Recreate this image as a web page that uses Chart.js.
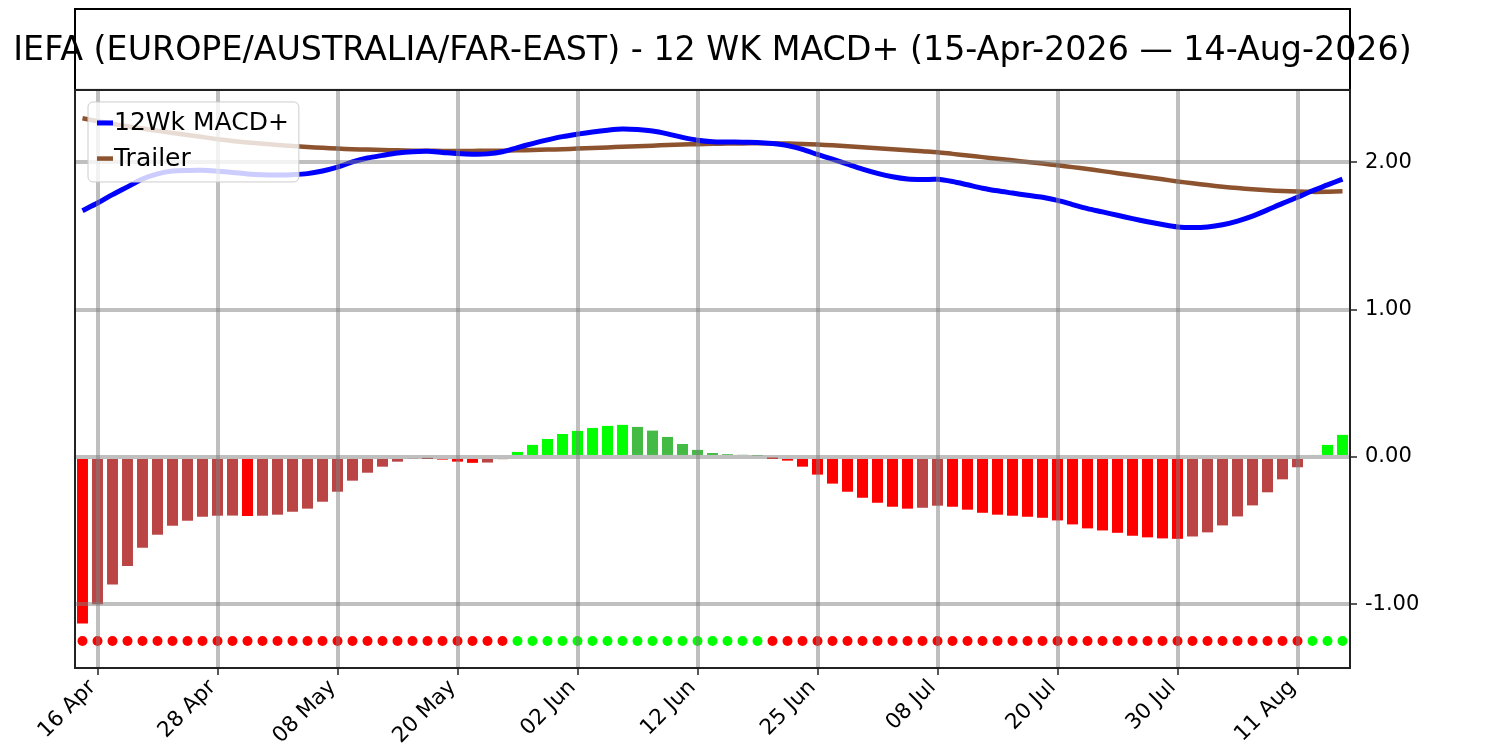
<!DOCTYPE html>
<html>
<head>
<meta charset="utf-8">
<script src="https://cdn.jsdelivr.net/npm/chart.js@4.4.1/dist/chart.umd.min.js"></script>
<style>
  html, body { margin: 0; padding: 0; background: #fff; }
  #wrap { width: 1500px; height: 750px; }
</style>
</head>
<body>
<div id="wrap"><canvas id="macd"></canvas></div>
<script>
// trading sessions, 15 Apr 2026 - 14 Aug 2026
const days = [
  '15 Apr','16 Apr','17 Apr','20 Apr','21 Apr','22 Apr','23 Apr','24 Apr','27 Apr','28 Apr','29 Apr','30 Apr',
  '01 May','04 May','05 May','06 May','07 May','08 May','11 May','12 May','13 May','14 May','15 May','18 May',
  '19 May','20 May','21 May','22 May','26 May','27 May','28 May','29 May',
  '01 Jun','02 Jun','03 Jun','04 Jun','05 Jun','08 Jun','09 Jun','10 Jun','11 Jun','12 Jun','15 Jun','16 Jun',
  '17 Jun','18 Jun','22 Jun','23 Jun','24 Jun','25 Jun','26 Jun','29 Jun','30 Jun',
  '01 Jul','02 Jul','06 Jul','07 Jul','08 Jul','09 Jul','10 Jul','13 Jul','14 Jul','15 Jul','16 Jul','17 Jul',
  '20 Jul','21 Jul','22 Jul','23 Jul','24 Jul','27 Jul','28 Jul','29 Jul','30 Jul','31 Jul',
  '03 Aug','04 Aug','05 Aug','06 Aug','07 Aug','10 Aug','11 Aug','12 Aug','13 Aug','14 Aug'
];

const macd = [
  1.672,1.724,1.781,1.834,1.887,1.922,1.941,1.945,1.946,1.940,1.932,1.922,1.916,1.914,1.917,1.924,1.942,
  1.968,2.003,2.030,2.048,2.064,2.073,2.076,2.068,2.060,2.056,2.058,2.072,2.101,2.128,2.153,2.175,2.192,
  2.207,2.219,2.227,2.223,2.213,2.194,2.170,2.151,2.141,2.139,2.137,2.136,2.128,2.114,2.088,2.054,2.022,
  1.988,1.955,1.926,1.903,1.888,1.884,1.885,1.870,1.848,1.825,1.807,1.792,1.777,1.763,1.742,1.714,1.686,
  1.664,1.641,1.618,1.597,1.578,1.562,1.558,1.562,1.577,1.602,1.635,1.678,1.722,1.763,1.808,1.847,1.887
];

const trailer = [
  2.300,2.280,2.262,2.245,2.230,2.215,2.200,2.186,2.172,2.158,2.146,2.136,2.127,2.119,2.112,2.105,2.099,
  2.094,2.090,2.087,2.084,2.082,2.080,2.079,2.078,2.078,2.078,2.079,2.080,2.082,2.084,2.087,2.090,2.094,
  2.098,2.102,2.106,2.110,2.114,2.118,2.121,2.124,2.126,2.128,2.129,2.130,2.130,2.128,2.125,2.121,2.116,
  2.110,2.103,2.097,2.090,2.083,2.076,2.069,2.058,2.047,2.036,2.025,2.014,2.003,1.992,1.981,1.968,1.955,
  1.941,1.927,1.913,1.899,1.885,1.871,1.858,1.846,1.835,1.826,1.818,1.811,1.806,1.802,1.800,1.801,1.804
];

const hist = [
  -1.13,-1.00,-0.866,-0.74,-0.617,-0.528,-0.467,-0.433,-0.406,-0.399,-0.398,-0.401,-0.399,-0.392,-0.372,
  -0.351,-0.304,-0.236,-0.161,-0.107,-0.066,-0.032,-0.012,-0.006,-0.018,-0.032,-0.04,-0.038,-0.015,
  0.034,0.082,0.122,0.156,0.177,0.197,0.211,0.218,0.204,0.179,0.136,0.088,0.048,0.027,0.019,0.015,0.01,
  -0.004,-0.025,-0.066,-0.12,-0.181,-0.236,-0.277,-0.311,-0.338,-0.351,-0.345,-0.331,-0.338,-0.358,-0.379,
  -0.392,-0.399,-0.406,-0.413,-0.431,-0.458,-0.485,-0.499,-0.515,-0.535,-0.546,-0.553,-0.556,-0.54,-0.512,
  -0.465,-0.404,-0.329,-0.24,-0.152,-0.07,0.014,0.082,0.15
];

const signalLevel = -1.25;
const yTicks = [-1, 0, 1, 2];
const tickEvery = 8;   // a date label every 8 sessions, starting at 16 Apr

const FONT = '"DejaVu Sans", Verdana, sans-serif';
const GRID = 'rgba(128,128,128,0.5)';

// bright when the histogram moves away from zero, dull when it comes back
const barColors = hist.map((v, i) => {
  const prev = i > 0 ? hist[i - 1] : v;
  if (v >= 0) return v >= prev ? '#00ff00' : '#44bb44';
  return v <= prev ? '#ff0000' : '#bb4444';
});
const dotColors = hist.map(v => v >= 0 ? '#00ff00' : '#ff0000');

const shown = i => (i - 1) % tickEvery === 0;

// the title may run wider than its box, as in the original
const wideTitle = {
  id: 'wideTitle',
  afterLayout(chart) {
    const t = chart.titleBlock, a = chart.chartArea;
    const mid = (a.left + a.right) / 2;
    t.left = mid - 800;
    t.right = mid + 800;
  }
};

const legendBox = {
  id: 'legendBox',
  afterDraw(chart) {
    const {ctx, chartArea: a} = chart;
    const items = chart.data.datasets.filter(d => d.inLegend);
    ctx.save();
    ctx.font = '25px ' + FONT;
    const textW = Math.max(...items.map(d => ctx.measureText(d.label).width));
    const x0 = a.left + 13, y0 = a.top + 12;
    ctx.beginPath();
    ctx.roundRect(x0, y0, 26 + textW + 10, 80, 5);
    ctx.fillStyle = 'rgba(255,255,255,0.8)';
    ctx.fill();
    ctx.strokeStyle = '#cccccc';
    ctx.lineWidth = 1;
    ctx.stroke();
    items.forEach((d, k) => {
      const cy = y0 + 21 + k * 35.6;
      ctx.strokeStyle = d.borderColor;
      ctx.lineWidth = d.borderWidth;
      ctx.beginPath();
      ctx.moveTo(x0 + 9, cy);
      ctx.lineTo(x0 + 25, cy);
      ctx.stroke();
      ctx.fillStyle = '#000';
      ctx.textBaseline = 'middle';
      ctx.fillText(d.label, x0 + 26, cy + 1);
    });
    ctx.restore();
  }
};

const frames = {
  id: 'frames',
  afterDraw(chart) {
    const {ctx, chartArea: a} = chart;
    const t = chart.titleBlock;
    ctx.save();
    ctx.lineWidth = 2;
    ctx.strokeStyle = '#000';
    ctx.strokeRect(a.left, t.top, a.right - a.left, a.top - t.top);
    ctx.strokeStyle = '#222';
    ctx.strokeRect(a.left, a.top, a.right - a.left, a.bottom - a.top);
    ctx.restore();
  }
};

new Chart(document.getElementById('macd'), {
  type: 'bar',
  data: {
    labels: days,
    datasets: [
      { type: 'line', label: '12Wk MACD+', data: macd, borderColor: '#0000ff', borderWidth: 5,
        pointRadius: 0, tension: 0.3, inLegend: true, order: 1 },
      { type: 'line', label: 'Trailer', data: trailer, borderColor: '#8c532e', borderWidth: 4.5,
        pointRadius: 0, tension: 0.3, inLegend: true, order: 2 },
      { type: 'bar', label: 'Histogram', data: hist, backgroundColor: barColors,
        barPercentage: 0.73, categoryPercentage: 1, order: 3 },
      { type: 'line', label: 'Signal', data: days.map(() => signalLevel), showLine: false,
        pointRadius: 5, pointBorderWidth: 0, pointBackgroundColor: dotColors, order: 0 }
    ]
  },
  options: {
    responsive: true,
    maintainAspectRatio: false,
    animation: false,
    layout: { padding: { left: 75, top: 9, right: 0, bottom: 0 } },
    plugins: {
      legend: { display: false },
      tooltip: { enabled: false },
      title: {
        display: true,
        fullSize: false,
        text: 'IEFA (EUROPE/AUSTRALIA/FAR-EAST) - 12 WK MACD+ (15-Apr-2026 \u2014 14-Aug-2026)',
        color: '#000',
        font: { family: FONT, size: 33.3, weight: 'normal', lineHeight: 1.2 },
        padding: { top: 22.5, bottom: 18.5 }
      }
    },
    scales: {
      x: {
        offset: true,
        border: { display: false },
        grid: {
          offset: false, z: 1, lineWidth: 4, tickLength: 7, tickWidth: 1.5,
          color: c => shown(c.index) ? GRID : 'rgba(0,0,0,0)',
          tickColor: c => shown(c.index) ? '#222' : 'rgba(0,0,0,0)'
        },
        ticks: {
          autoSkip: false, maxRotation: 45, minRotation: 45, padding: 0, labelOffset: -5,
          color: '#000', font: { family: FONT, size: 21.5 },
          callback: (v, i) => shown(i) ? days[i] : ''
        },
        afterFit(s) { s.height = 82; }
      },
      y: {
        position: 'right',
        min: -1.433,
        max: 2.492,
        afterBuildTicks(s) { s.ticks = yTicks.map(v => ({ value: v })); },
        border: { display: false },
        grid: { z: 1, lineWidth: 4, color: GRID, tickLength: 7, tickWidth: 1.5, tickColor: '#222' },
        ticks: { color: '#000', padding: 8, font: { family: FONT, size: 21 }, callback: v => v.toFixed(2) },
        afterFit(s) { s.width = 150; }
      }
    }
  },
  plugins: [wideTitle, legendBox, frames]
});
</script>
</body>
</html>
